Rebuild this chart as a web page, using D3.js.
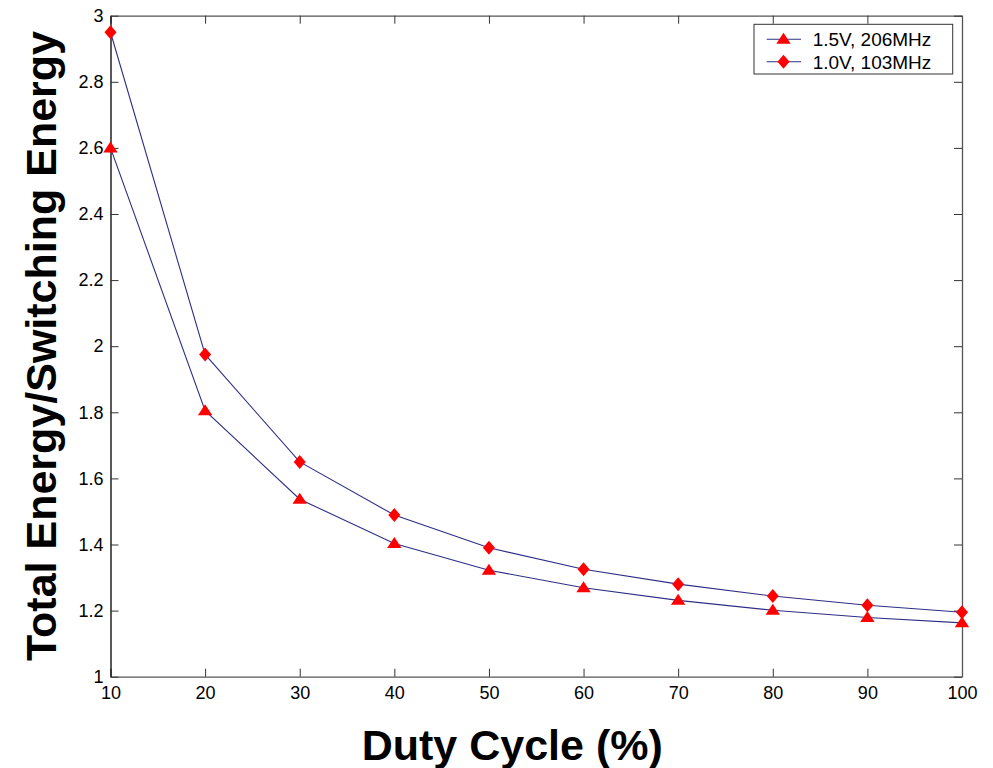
<!DOCTYPE html>
<html>
<head>
<meta charset="utf-8">
<script src="https://cdn.jsdelivr.net/npm/d3@7/dist/d3.min.js"></script>
<style>
    body { margin: 0; background: #fff; }
    svg { display: block; font-family: "Liberation Sans", Arial, sans-serif; }
</style>
</head>
<body>
<svg id="chart" width="993" height="768"></svg>
<script>
"use strict";

// duty cycle in percent
var dutyCycle = [10, 20, 30, 40, 50, 60, 70, 80, 90, 100];
// total energy / switching energy
var energyHigh = [2.60, 1.805, 1.537, 1.403, 1.322, 1.269, 1.231, 1.201, 1.179, 1.163];
var energyLow = [2.95, 1.975, 1.650, 1.489, 1.390, 1.325, 1.280, 1.244, 1.216, 1.195];
var seriesNames = ["1.5V, 206MHz", "1.0V, 103MHz"];
var xTicks = [10, 20, 30, 40, 50, 60, 70, 80, 90, 100];
var yTicks = [1, 1.2, 1.4, 1.6, 1.8, 2, 2.2, 2.4, 2.6, 2.8, 3];

var margin = {left: 110.5, top: 15.7, right: 31, bottom: 91.3};
var width = 993;
var height = 768;
var lineColor = "#2e2e86";
var markerColor = "#ff0000";
var tickLength = 8;

// matlab-like marker shapes
var triangleMarker = {
    draw: function (context) {
        context.moveTo(0, -6.5);
        context.lineTo(7.2, 4.5);
        context.lineTo(-7.2, 4.5);
        context.closePath();
    }
};
var diamondMarker = {
    draw: function (context) {
        context.moveTo(0, -7);
        context.lineTo(6, 0);
        context.lineTo(0, 7);
        context.lineTo(-6, 0);
        context.closePath();
    }
};

var svg = d3.select("#chart");

var x = d3.scaleLinear().domain([10, 100]).range([margin.left, width - margin.right]);
var y = d3.scaleLinear().domain([1, 3]).range([height - margin.bottom, margin.top]);

var series = [
    {name: seriesNames[0], values: energyHigh, symbol: triangleMarker},
    {name: seriesNames[1], values: energyLow, symbol: diamondMarker}
];

// frame with inward ticks on every side
var frame = svg.append("g").attr("class", "frame");
frame.append("g")
    .attr("transform", "translate(0," + y(1) + ")")
    .call(d3.axisBottom(x).tickValues(xTicks).tickSizeInner(-tickLength).tickSizeOuter(0).tickPadding(10));
frame.append("g")
    .attr("transform", "translate(0," + y(3) + ")")
    .call(d3.axisTop(x).tickValues(xTicks).tickSizeInner(-tickLength).tickSizeOuter(0).tickFormat(""));
frame.append("g")
    .attr("class", "y-left")
    .attr("transform", "translate(" + x(10) + ",0)")
    .call(d3.axisLeft(y).tickValues(yTicks).tickSizeInner(-tickLength).tickSizeOuter(0).tickPadding(7)
        .tickFormat(function (d) { return d3.format("~g")(d); }));
frame.append("g")
    .attr("transform", "translate(" + x(100) + ",0)")
    .call(d3.axisRight(y).tickValues(yTicks).tickSizeInner(-tickLength).tickSizeOuter(0).tickFormat(""));

frame.selectAll(".domain").attr("stroke", "#555").attr("stroke-width", 1.3);
frame.select(".y-left .domain").attr("stroke", "#000");
frame.selectAll(".tick line").attr("stroke", "#333");
frame.selectAll(".tick text")
    .attr("fill", "#000")
    .style("font-size", "18px")
    .style("font-family", "'Liberation Sans', Arial, sans-serif");

var line = d3.line()
    .x(function (d, i) { return x(dutyCycle[i]); })
    .y(function (d) { return y(d); });

var plot = svg.append("g").attr("class", "series");
series.forEach(function (s) {
    plot.append("path")
        .datum(s.values)
        .attr("fill", "none")
        .attr("stroke", lineColor)
        .attr("stroke-width", 1.1)
        .attr("d", line);
});
series.forEach(function (s) {
    plot.selectAll(null)
        .data(s.values)
        .enter()
        .append("path")
        .attr("d", d3.symbol().type(s.symbol))
        .attr("fill", markerColor)
        .attr("transform", function (d, i) {
            return "translate(" + x(dutyCycle[i]) + "," + y(d) + ")";
        });
});

// legend
var legend = svg.append("g").attr("transform", "translate(754,24.3)");
legend.append("rect")
    .attr("width", 198.7)
    .attr("height", 49.7)
    .attr("fill", "#fff")
    .attr("stroke", "#333")
    .attr("stroke-width", 1);
series.forEach(function (s, i) {
    var row = legend.append("g").attr("transform", "translate(0," + (15 + i * 22.4) + ")");
    row.append("line")
        .attr("x1", 12.7).attr("x2", 47)
        .attr("stroke", lineColor).attr("stroke-width", 1.1);
    row.append("path")
        .attr("d", d3.symbol().type(s.symbol))
        .attr("fill", markerColor)
        .attr("transform", "translate(29.5,0)");
    row.append("text")
        .attr("x", 58.7)
        .attr("dy", "0.36em")
        .style("font-size", "19px")
        .text(s.name);
});

// axis titles
svg.append("text")
    .attr("x", (margin.left + width - margin.right) / 2 - 24)
    .attr("y", 760)
    .attr("text-anchor", "middle")
    .style("font-size", "43px")
    .style("font-weight", "bold")
    .text("Duty Cycle (%)");

svg.append("text")
    .attr("transform", "translate(56," + 346 + ") rotate(-90)")
    .attr("text-anchor", "middle")
    .style("font-size", "43px")
    .style("font-weight", "bold")
    .text("Total Energy/Switching Energy");
</script>
</body>
</html>
